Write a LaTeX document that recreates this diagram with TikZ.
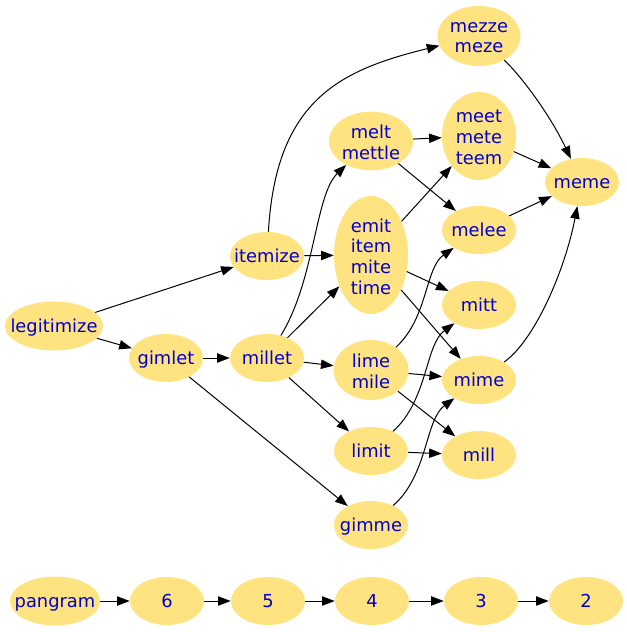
\documentclass[tikz,border=0pt]{standalone}
\usepackage{fontspec}
\setmainfont{DejaVu Sans}
\usetikzlibrary{shapes.geometric,arrows.meta}
\definecolor{nodefill}{HTML}{FFE380}
\definecolor{nodetext}{HTML}{0000CD}
\tikzset{
  wordtext/.style={text=nodetext, inner sep=0pt, align=center,
    font=\fontsize{13.4}{15.6}\selectfont},
  blob/.style={ellipse, fill=nodefill, inner sep=0pt,
    minimum width=55.5pt, minimum height=36pt},
  word/.style={blob,
    label={[wordtext, text height=10pt, text depth=3pt, yshift=-1.5pt]center:#1}},
  words/.style={blob, label={[wordtext, yshift=-1.2pt]center:#1}},
  link/.style={draw=black, line width=0.75pt, -{Triangle[length=9.5pt,width=7pt]}},
}
\begin{document}
\begin{tikzpicture}[x=0.75pt,y=-0.75pt]
\useasboundingbox (0,0) rectangle (626,632);
% nodes
\node[word=legitimize, minimum width=73.5pt, minimum height=36.75pt] (legitimize) at (54,326) {};
\node[word=itemize] (itemize) at (267,256) {};
\node[word=gimlet] (gimlet) at (166,358) {};
\node[word=millet] (millet) at (267,358) {};
\node[words={mezze\\meze}, minimum width=62.25pt, minimum height=45pt] (mezze) at (479,36) {};
\node[words={melt\\mettle}, minimum width=63pt, minimum height=44pt] (melt) at (371,141) {};
\node[words={meet\\mete\\teem}, minimum height=66pt] (meet) at (479,136) {};
\node[word=meme] (meme) at (582,182) {};
\node[words={emit\\item\\mite\\time}, minimum height=88.5pt] (emit) at (371,255) {};
\node[word=melee] (melee) at (479,230) {};
\node[word=mitt] (mitt) at (479,305) {};
\node[words={lime\\mile}, minimum width=56.25pt, minimum height=45pt] (lime) at (371,370) {};
\node[word=mime] (mime) at (479,380) {};
\node[word=limit] (limit) at (371,451) {};
\node[word=mill] (mill) at (479,455) {};
\node[word=gimme] (gimme) at (371,525) {};
\node[word=pangram, minimum width=67.5pt, minimum height=36.75pt] (pangram) at (55,601) {};
\node[word=6] (n6) at (167,601) {};
\node[word=5] (n5) at (268,601) {};
\node[word=4] (n4) at (372,601) {};
\node[word=3] (n3) at (481,601) {};
\node[word=2] (n2) at (586,601) {};
% edges
\draw[link] (legitimize) -- (itemize);
\draw[link] (legitimize) -- (gimlet);
\draw[link] (itemize) .. controls (276,100) and (340,70) .. (mezze);
\draw[link] (itemize) -- (emit);
\draw[link] (gimlet) -- (millet);
\draw[link] (gimlet) -- (gimme);
\draw[link] (millet) .. controls (315,280) and (315,195) .. (melt);
\draw[link] (millet) -- (emit);
\draw[link] (millet) -- (lime);
\draw[link] (millet) -- (limit);
\draw[link] (melt) -- (meet);
\draw[link] (melt) -- (melee);
\draw[link] (emit) -- (meet);
\draw[link] (emit) -- (mitt);
\draw[link] (emit) -- (mime);
\draw[link] (lime) .. controls (428,318) and (425,268) .. (melee);
\draw[link] (lime) -- (mime);
\draw[link] (lime) -- (mill);
\draw[link] (limit) .. controls (428,400) and (425,345) .. (mitt);
\draw[link] (limit) -- (mill);
\draw[link] (gimme) .. controls (428,475) and (425,420) .. (mime);
\draw[link] (mezze) .. controls (522,77) and (550,115) .. (meme);
\draw[link] (meet) -- (meme);
\draw[link] (melee) -- (meme);
\draw[link] (mime) .. controls (535,340) and (565,270) .. (meme);
\draw[link] (pangram) -- (n6);
\draw[link] (n6) -- (n5);
\draw[link] (n5) -- (n4);
\draw[link] (n4) -- (n3);
\draw[link] (n3) -- (n2);
\end{tikzpicture}
\end{document}
